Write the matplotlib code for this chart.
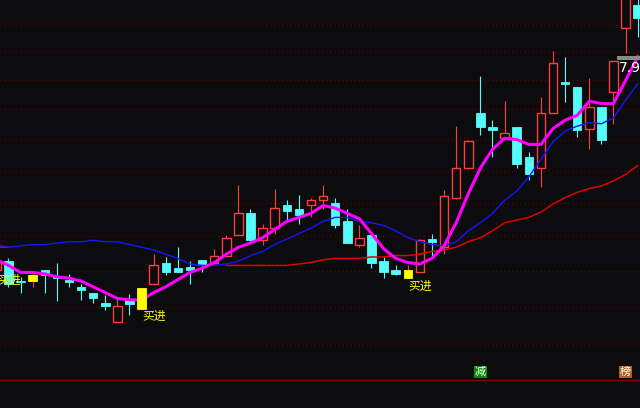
import numpy as np
import matplotlib.pyplot as plt
from matplotlib.transforms import blended_transform_factory

plt.rcParams['font.family'] = ['Noto Sans CJK SC', 'DejaVu Sans']

BG = '#0c0c0e'
UP = '#ff3c3c'
DOWN = '#54fcfc'
SIG = '#ffff00'

# daily candles, first one is cut off at the left edge
# kind: r = up (hollow red), c = down (cyan), y = signal bar (yellow)
kinds = list("rccycccccc" "rcyrccccrr" "rcrrccrrcc" "rcccyrcrrr" "ccrccrrccr" "crrc")
opens = [6.26, 6.32, 6.18, 6.18, 6.26, 6.21, 6.19, 6.14, 6.10, 6.03,
         5.90, 6.05, 5.99, 6.16, 6.31, 6.27, 6.28, 6.33, 6.31, 6.36,
         6.51, 6.67, 6.47, 6.56, 6.73, 6.70, 6.73, 6.77, 6.75, 6.61,
         6.44, 6.51, 6.32, 6.26, 6.20, 6.24, 6.48, 6.42, 6.79, 7.02,
         7.47, 7.35, 7.26, 7.35, 7.11, 7.02, 7.47, 7.74, 7.69, 7.34,
         7.52, 7.65, 8.22, 8.44]
highs = [6.34, 6.34, 6.21, 6.25, 6.26, 6.31, 6.23, 6.16, 6.10, 6.08,
         6.07, 6.09, 6.13, 6.37, 6.35, 6.42, 6.32, 6.33, 6.41, 6.51,
         6.89, 6.70, 6.59, 6.86, 6.77, 6.81, 6.79, 6.89, 6.79, 6.70,
         6.58, 6.51, 6.35, 6.29, 6.29, 6.48, 6.52, 6.85, 7.36, 7.25,
         7.79, 7.41, 7.57, 7.35, 7.15, 7.61, 8.01, 7.96, 7.69, 7.77,
         7.52, 7.92, 8.85, 8.67]
lows = [6.24, 6.14, 6.10, 6.14, 6.10, 6.04, 6.14, 6.05, 6.03, 5.98,
        5.90, 5.95, 5.99, 6.16, 6.22, 6.24, 6.16, 6.24, 6.30, 6.36,
        6.51, 6.46, 6.44, 6.52, 6.62, 6.59, 6.64, 6.70, 6.56, 6.45,
        6.42, 6.27, 6.20, 6.22, 6.20, 6.24, 6.35, 6.37, 6.78, 7.01,
        7.29, 7.11, 7.26, 7.02, 6.93, 6.87, 7.47, 7.56, 7.27, 7.17,
        7.21, 7.38, 7.99, 8.14]
closes = [6.32, 6.16, 6.17, 6.22, 6.22, 6.20, 6.17, 6.12, 6.06, 6.01,
          6.01, 6.02, 6.13, 6.29, 6.24, 6.24, 6.26, 6.29, 6.36, 6.49,
          6.67, 6.47, 6.56, 6.71, 6.69, 6.66, 6.77, 6.80, 6.58, 6.45,
          6.49, 6.31, 6.24, 6.23, 6.26, 6.47, 6.46, 6.80, 7.02, 7.24,
          7.35, 7.33, 7.30, 7.05, 6.97, 7.47, 7.90, 7.72, 7.33, 7.52,
          7.25, 7.92, 8.56, 8.32]

# moving averages
ma_fast = [6.33, 6.29, 6.24, 6.24, 6.23, 6.21, 6.20, 6.18, 6.14, 6.10,
           6.06, 6.05, 6.05, 6.10, 6.14, 6.19, 6.24, 6.27, 6.31, 6.37,
           6.42, 6.45, 6.49, 6.55, 6.61, 6.64, 6.67, 6.73, 6.71, 6.67,
           6.63, 6.52, 6.41, 6.34, 6.31, 6.30, 6.34, 6.43, 6.60, 6.82,
           7.02, 7.17, 7.26, 7.25, 7.21, 7.21, 7.34, 7.41, 7.45, 7.57,
           7.55, 7.55, 7.75, 7.96]
ma_mid = [6.44, 6.42, 6.43, 6.44, 6.44, 6.45, 6.46, 6.46, 6.47, 6.46,
          6.46, 6.44, 6.42, 6.40, 6.37, 6.34, 6.30, 6.29, 6.29, 6.30,
          6.32, 6.36, 6.39, 6.44, 6.48, 6.52, 6.56, 6.61, 6.64, 6.64,
          6.61, 6.60, 6.58, 6.54, 6.49, 6.46, 6.44, 6.43, 6.46, 6.54,
          6.60, 6.67, 6.77, 6.84, 6.95, 7.09, 7.23, 7.32, 7.36, 7.39,
          7.38, 7.43, 7.58, 7.72]
ma_slow = [6.42, 6.42] + [None] * 17 + [
           6.29, 6.29, 6.29, 6.29, 6.29, 6.29, 6.30, 6.31, 6.33, 6.34,
           6.34, 6.34, 6.35, 6.35, 6.36, 6.36, 6.37, 6.39, 6.40, 6.42,
           6.46, 6.49, 6.54, 6.60, 6.62, 6.64, 6.68, 6.74, 6.79, 6.83,
           6.86, 6.88, 6.92, 6.97, 7.04]

buy_idx = [0, 12, 34]
flags = [(40, '减', '#0b8a0b'), (52, '榜', '#b0601a')]
grid_levels = [8.25, 8.0, 7.75, 7.5, 7.25, 7.0, 6.75, 6.5, 6.25, 6.0, 5.75]
last_mark = 7.96

fig = plt.figure(figsize=(6.4, 4.08), dpi=100, facecolor=BG)
ax = fig.add_axes([0, 28 / 408, 1, 380 / 408], facecolor=BG)
ax.set_yscale('log')
ax.set_xlim(0.3, 53.19)
ax.set_ylim(5.527, 8.486)

for lv in grid_levels:
    ax.axhline(lv, color='#700000', lw=1.0, ls=(0, (0.8, 2.1)), zorder=0)

w = 0.7
for i in range(len(opens)):
    o, h, l, c, kd = opens[i], highs[i], lows[i], closes[i], kinds[i]
    top, bot = max(o, c), min(o, c)
    if kd == 'c':
        ax.vlines(i, l, h, color=DOWN, lw=0.8, zorder=2)
        ax.bar(i, top - bot, bottom=bot, width=w, color=DOWN, ec=DOWN, lw=0.6, zorder=3)
    elif kd == 'r':
        ax.vlines(i, top, h, color=UP, lw=0.8, zorder=2)
        ax.vlines(i, l, bot, color=UP, lw=0.8, zorder=2)
        ax.bar(i, top - bot, bottom=bot, width=w, facecolor=BG, ec=UP, lw=1.0, zorder=3)
    else:
        ax.vlines(i, l, h, color=UP, lw=0.8, zorder=6)
        ax.bar(i, top - bot, bottom=bot, width=w, color=SIG, ec=SIG, lw=0.6, zorder=6)

xs = np.arange(len(opens))
ax.plot(xs, np.array(ma_slow, dtype=float), color='#e00000', lw=1.1, zorder=4)
ax.plot(xs, ma_mid, color='#1414ff', lw=1.0, zorder=4)
ax.plot(xs, ma_fast, color='#ff00ff', lw=2.2, zorder=5)

for i in buy_idx:
    ax.annotate('买进', (i, lows[i]), xytext=(0.5, -1), textcoords='offset points',
                color=SIG, fontsize=8.5, ha='left', va='top', zorder=7,
                annotation_clip=False)

# price tag at the right edge
ax.fill_between([51.3, 53.19], 7.93, 7.97, color='#8a8a8a', lw=0, zorder=6)
ax.text(51.45, 7.92, f'{last_mark:.2f}', color='white', fontsize=10,
        family='DejaVu Sans', ha='left', va='top', zorder=7)

trans = blended_transform_factory(ax.transData, ax.transAxes)
for i, t, col in flags:
    ax.text(i, 0.02, t, transform=trans, ha='center', va='center', fontsize=8,
            color='white', zorder=7,
            bbox=dict(boxstyle='square,pad=0.08', fc=col, ec='none'))

ax.tick_params(which='both', left=False, bottom=False, labelleft=False, labelbottom=False)
for s in ['top', 'left', 'right']:
    ax.spines[s].set_visible(False)
ax.spines['bottom'].set_color('#800000')
ax.spines['bottom'].set_linewidth(1.0)

fig.savefig('out.png', dpi=100, facecolor=BG)
